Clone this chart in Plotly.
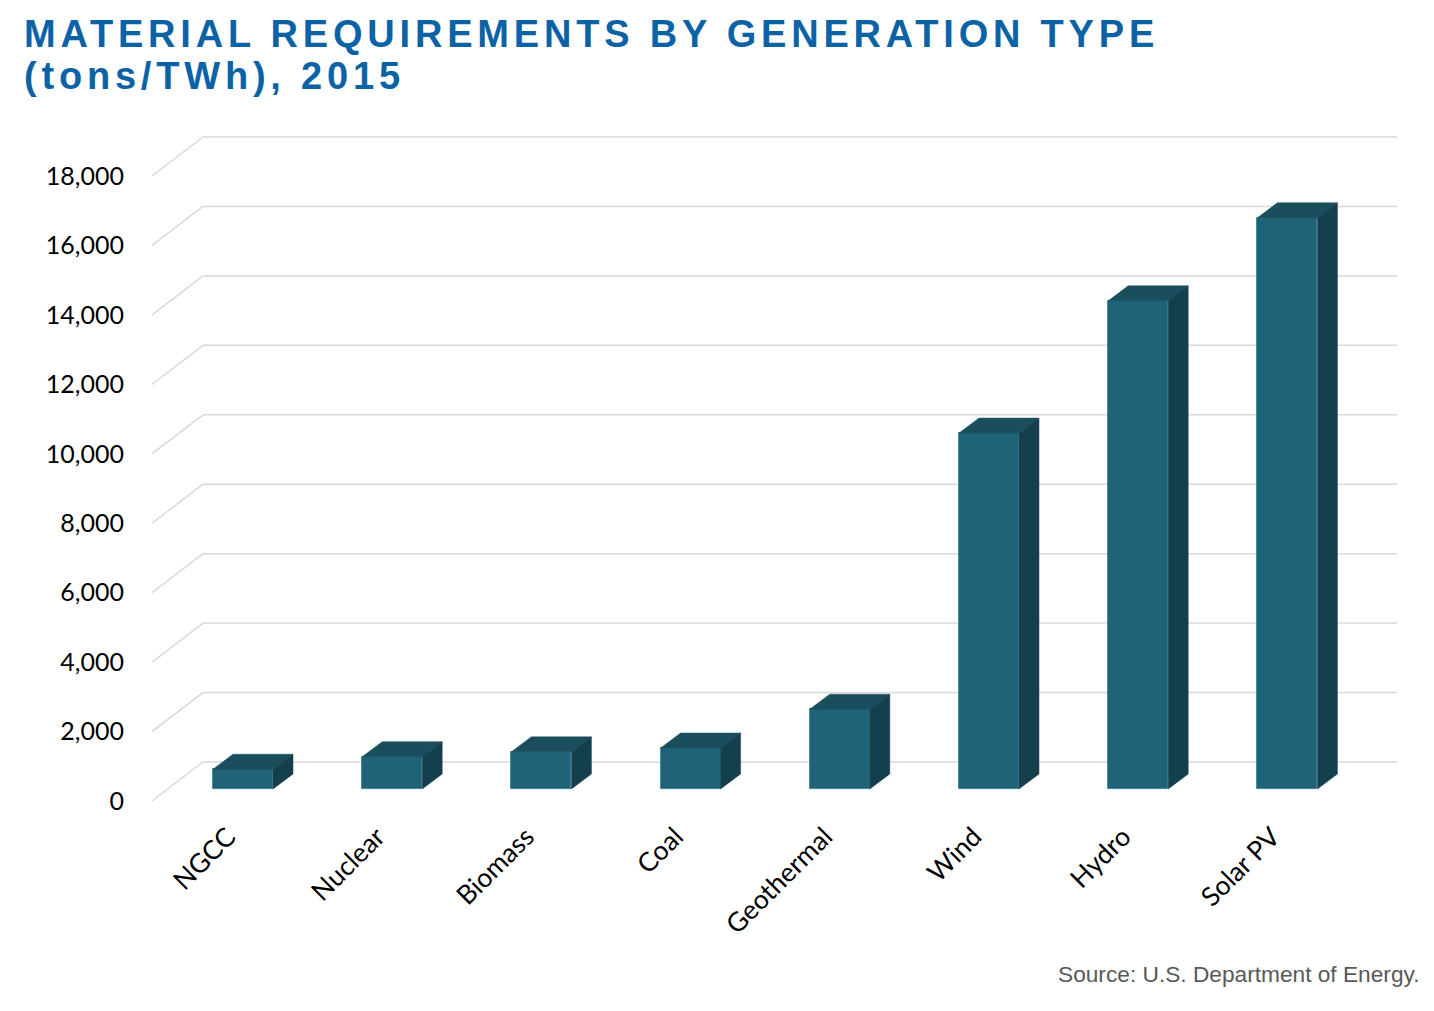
import plotly.graph_objects as go

# ---------------- data ----------------
categories = ["NGCC", "Nuclear", "Biomass", "Coal", "Geothermal", "Wind", "Hydro", "Solar PV"]
values = [570, 930, 1070, 1180, 2300, 10250, 14060, 16450]
tick_values = [0, 2000, 4000, 6000, 8000, 10000, 12000, 14000, 16000, 18000]
tick_labels = ["0", "2,000", "4,000", "6,000", "8,000", "10,000", "12,000", "14,000", "16,000", "18,000"]

title_line1 = "MATERIAL REQUIREMENTS BY GENERATION TYPE"
title_line2 = "(tons/TWh), 2015"
source_text = "Source: U.S. Department of Energy."

# ---------------- geometry (pixels -> axis units) ----------------
W, H = 1434, 1011
L, R, T, B = 152, 1397, 120, 810           # plot area in px
S = 625 / 18000                             # px per value unit
Y0 = 789                                    # px of value 0 at bar base
CX0, STEP = 243, 149.2                      # px of first category, px per category

def ux(px):
    return (px - CX0) / STEP

yr = [(Y0 - B) / S, (Y0 - T) / S]
xr = [ux(L), ux(R)]

front_off = (Y0 - 801) / S   # front edge of floor/gridline (value units)
back_off = (Y0 - 762) / S    # back wall (value units)
x_front = ux(L)
x_back = ux(203)
x_end = ux(R)

bar_w = 60 / STEP
depth_x = 20 / STEP
depth_y = 15 / S

FRONT = "#1E6378"
TOP = "#1B4E5D"
SIDE = "#143F4D"
GRID = "#D9D9D9"
TITLE_C = "#0B63A5"

fig = go.Figure()

# front faces
fig.add_trace(go.Bar(
    x=list(range(len(categories))), y=values, width=bar_w,
    marker=dict(color=FRONT, line=dict(color="#2F7588", width=0.8)),
    hoverinfo="skip", showlegend=False,
))

# top and side faces
tx, ty, sx, sy = [], [], [], []
for i, v in enumerate(values):
    xl, xr_ = i - bar_w / 2, i + bar_w / 2
    tx += [xl, xr_, xr_ + depth_x, xl + depth_x, xl, None]
    ty += [v, v, v + depth_y, v + depth_y, v, None]
    sx += [xr_, xr_ + depth_x, xr_ + depth_x, xr_, xr_, None]
    sy += [0, depth_y, v + depth_y, v, 0, None]

fig.add_trace(go.Scatter(x=tx, y=ty, mode="lines", fill="toself", fillcolor=TOP,
                         line=dict(color=TOP, width=0.5), hoverinfo="skip", showlegend=False))
fig.add_trace(go.Scatter(x=sx, y=sy, mode="lines", fill="toself", fillcolor=SIDE,
                         line=dict(color=SIDE, width=0.5), hoverinfo="skip", showlegend=False))

# 3-D gridlines (floor diagonal + back wall)
shapes = []
for v in tick_values:
    shapes.append(dict(type="line", xref="x", yref="y", layer="below",
                       x0=x_front, y0=v + front_off, x1=x_back, y1=v + back_off,
                       line=dict(color=GRID, width=1.5)))
    shapes.append(dict(type="line", xref="x", yref="y", layer="below",
                       x0=x_back, y0=v + back_off, x1=x_end, y1=v + back_off,
                       line=dict(color=GRID, width=1.5)))

def py(p):
    return (B - p) / (B - T)

def pxp(p):
    return (p - L) / (R - L)

annotations = [
    dict(text=f"<b>{title_line1}</b>", x=pxp(22), y=py(34), xref="paper", yref="paper",
         xanchor="left", yanchor="middle", align="left", showarrow=False,
         font=dict(family="Liberation Sans, Arial", size=38, color=TITLE_C)),
    dict(text=f"<b>{title_line2}</b>", x=pxp(22), y=py(76), xref="paper", yref="paper",
         xanchor="left", yanchor="middle", align="left", showarrow=False,
         font=dict(family="Liberation Sans, Arial", size=38, color=TITLE_C)),
    dict(text=source_text, x=pxp(1421), y=py(974), xref="paper", yref="paper",
         xanchor="right", yanchor="middle", align="right", showarrow=False,
         font=dict(family="Liberation Sans, Arial", size=22.7, color="#595959")),
]

fig.update_layout(
    width=W, height=H,
    margin=dict(l=L, r=W - R, t=T, b=H - B, pad=0),
    paper_bgcolor="white", plot_bgcolor="white",
    shapes=shapes, annotations=annotations,
    bargap=0, showlegend=False,
    font=dict(family="Lato, Noto Sans", size=25, color="#000000"),
)
fig.update_xaxes(range=xr, tickmode="array", tickvals=list(range(len(categories))),
                 ticktext=categories, tickangle=-45, showgrid=False, zeroline=False,
                 showline=False, ticks="", ticklabelstandoff=5, ticklabelshift=-15,
                 tickfont=dict(family="Lato, Noto Sans", size=26.5, color="#000000"))
fig.update_yaxes(range=yr, tickmode="array", tickvals=[v + front_off for v in tick_values],
                 ticktext=tick_labels, showgrid=False, zeroline=False, showline=False,
                 ticks="", ticklabelstandoff=27,
                 tickfont=dict(family="Lato, Noto Sans", size=25, color="#000000"))

post = """
document.body.style.margin='0';
var gd = document.getElementById('{plot_id}');
gd.querySelectorAll('.annotation-text').forEach(function(t){
  if (t.textContent.indexOf('Source') < 0) { t.style.letterSpacing = '4.8px'; }
});
"""

fig.write_html("out.html", post_script=post, config={"displayModeBar": False})
